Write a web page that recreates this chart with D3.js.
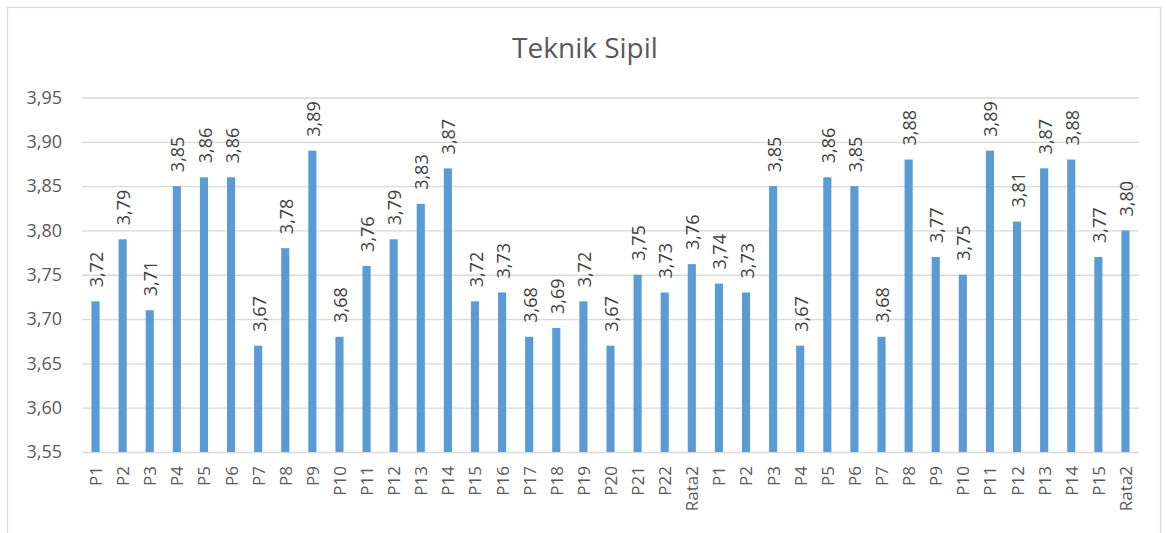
<html>
<head>
<meta charset="utf-8">
<title>Teknik Sipil</title>
<script src="https://d3js.org/d3.v7.min.js"></script>
<style>
body { margin: 0; background: #fff; font-family: "Open Sans", sans-serif; }
.grid line { stroke: #d9d9d9; stroke-width: 1.3; }
.grid path { display: none; }
.axis text { fill: #595959; font-family: "Open Sans", sans-serif; }
</style>
</head>
<body>
<script>
// data
var categories = ["P1","P2","P3","P4","P5","P6","P7","P8","P9","P10","P11","P12","P13","P14","P15","P16","P17","P18","P19","P20","P21","P22","Rata2",
                  "P1","P2","P3","P4","P5","P6","P7","P8","P9","P10","P11","P12","P13","P14","P15","Rata2"];
var values = [3.72,3.79,3.71,3.85,3.86,3.86,3.67,3.78,3.89,3.68,3.76,3.79,3.83,3.87,3.72,3.73,3.68,3.69,3.72,3.67,3.75,3.73,3.762,
              3.74,3.73,3.85,3.67,3.86,3.85,3.68,3.88,3.77,3.75,3.89,3.81,3.87,3.88,3.77,3.80];
var yTicks = [3.55,3.60,3.65,3.70,3.75,3.80,3.85,3.90,3.95];

var W = 1166, H = 533;
var margin = {top: 97.5, right: 27, bottom: 81, left: 82};
var w = W - margin.left - margin.right,
    h = H - margin.top - margin.bottom;

var data = values.map(function(v, i) { return {key: i, name: categories[i], value: v}; });

var fmt = function(v) { return d3.format(".2f")(v).replace(".", ","); };

var svg = d3.select("body").append("svg")
  .attr("width", W).attr("height", H);

// chart border
svg.append("rect")
  .attr("x", 7.5).attr("y", 7.5)
  .attr("width", 1153).attr("height", 540)
  .attr("fill", "none").attr("stroke", "#d9d9d9").attr("stroke-width", 1.3);

var g = svg.append("g")
  .attr("transform", "translate(" + margin.left + "," + margin.top + ")");

var x = d3.scaleBand().domain(data.map(function(d) { return d.key; }))
  .range([0, w]).paddingInner(0.7).paddingOuter(0.35);
var y = d3.scaleLinear().domain([3.55, 3.95]).range([h, 0]);

// gridlines
g.append("g").attr("class", "grid")
  .call(d3.axisLeft(y).tickValues(yTicks).tickSize(-w).tickFormat(""));

// y labels
g.append("g").attr("class", "axis")
  .call(d3.axisLeft(y).tickValues(yTicks).tickSize(0).tickPadding(20).tickFormat(fmt))
  .call(function(a) { a.select(".domain").remove(); })
  .selectAll("text")
  .style("font-size", "18px");

// x labels
g.append("g").attr("class", "axis")
  .attr("transform", "translate(0," + h + ")")
  .call(d3.axisBottom(x).tickSize(0).tickFormat(function(k) { return categories[k]; }))
  .call(function(a) { a.select(".domain").remove(); })
  .selectAll("text")
  .style("font-size", "17px")
  .attr("text-anchor", "end")
  .attr("transform", "rotate(-90)")
  .attr("x", -14)
  .attr("y", 0)
  .attr("dy", "0.38em");

// bars
g.selectAll(".bar")
  .data(data)
  .enter().append("rect")
  .attr("class", "bar")
  .attr("x", function(d) { return x(d.key); })
  .attr("width", x.bandwidth())
  .attr("y", function(d) { return y(d.value); })
  .attr("height", function(d) { return h - y(d.value); })
  .attr("fill", "#5b9bd5");

// value labels
g.selectAll(".lbl")
  .data(data)
  .enter().append("text")
  .attr("class", "lbl")
  .attr("transform", function(d) {
    return "translate(" + (x(d.key) + x.bandwidth() / 2) + "," + (y(d.value) - 14) + ") rotate(-90)";
  })
  .attr("dy", "0.42em")
  .attr("fill", "#404040")
  .style("font-size", "18px")
  .text(function(d) { return fmt(d.value); });

// title
svg.append("text")
  .attr("x", 585).attr("y", 58)
  .attr("text-anchor", "middle")
  .attr("fill", "#595959")
  .style("font-size", "28px")
  .text("Teknik Sipil");
</script>
</body>
</html>
